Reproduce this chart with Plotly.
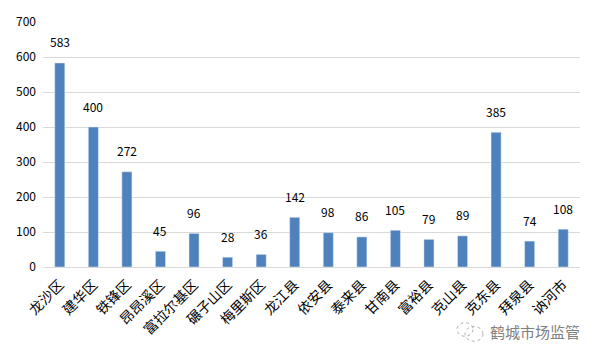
import plotly.graph_objects as go

categories = ["龙沙区", "建华区", "铁锋区", "昂昂溪区", "富拉尔基区", "碾子山区", "梅里斯区", "龙江县",
              "依安县", "泰来县", "甘南县", "富裕县", "克山县", "克东县", "拜泉县", "讷河市"]
values = [583, 400, 272, 45, 96, 28, 36, 142, 98, 86, 105, 79, 89, 385, 74, 108]
y_ticks = [0, 100, 200, 300, 400, 500, 600, 700]

font_family = "Noto Sans CJK SC, Noto Sans, sans-serif"

fig = go.Figure()
fig.add_trace(go.Bar(
    x=categories, y=values, marker_color="#4f81bd", width=0.3,
))

for c, v in zip(categories, values):
    fig.add_annotation(x=c, y=v, text=str(v), showarrow=False, yshift=21,
                       font=dict(size=12, color="#000000", family=font_family))

# watermark
fig.add_annotation(xref="paper", yref="paper", x=0.916, y=-0.262, xanchor="center", yanchor="middle",
                   text="鹤城市场监管", showarrow=False,
                   font=dict(size=15, color="#808080", family=font_family))
fig.add_shape(type="circle", xref="paper", yref="paper",
              x0=(457 - 43) / 537, x1=(473 - 43) / 537, y0=(267 - 338) / 251, y1=(267 - 324) / 251,
              line=dict(color="#b0b0b0", width=1, dash="dot"))
fig.add_shape(type="circle", xref="paper", yref="paper",
              x0=(465 - 43) / 537, x1=(483 - 43) / 537, y0=(267 - 343) / 251, y1=(267 - 328) / 251,
              line=dict(color="#b0b0b0", width=1, dash="dot"))

fig.update_layout(
    width=597, height=351,
    margin=dict(l=43, r=17, t=16, b=84),
    paper_bgcolor="white", plot_bgcolor="white",
    showlegend=False,
    bargap=0.7,
    font=dict(family=font_family, color="#000000"),
)
fig.update_xaxes(tickangle=-45, tickfont=dict(size=14, color="#000000"), showline=False,
                 ticks="", showgrid=False, ticklabelstandoff=6)
fig.update_yaxes(range=[0, 700], tickvals=y_ticks, showgrid=True, gridcolor="#d9d9d9",
                 gridwidth=1, zeroline=True, zerolinecolor="#d9d9d9", zerolinewidth=1,
                 tickfont=dict(size=12, color="#000000"), ticks="", ticklabelstandoff=6)

fig.write_html("out.html")
